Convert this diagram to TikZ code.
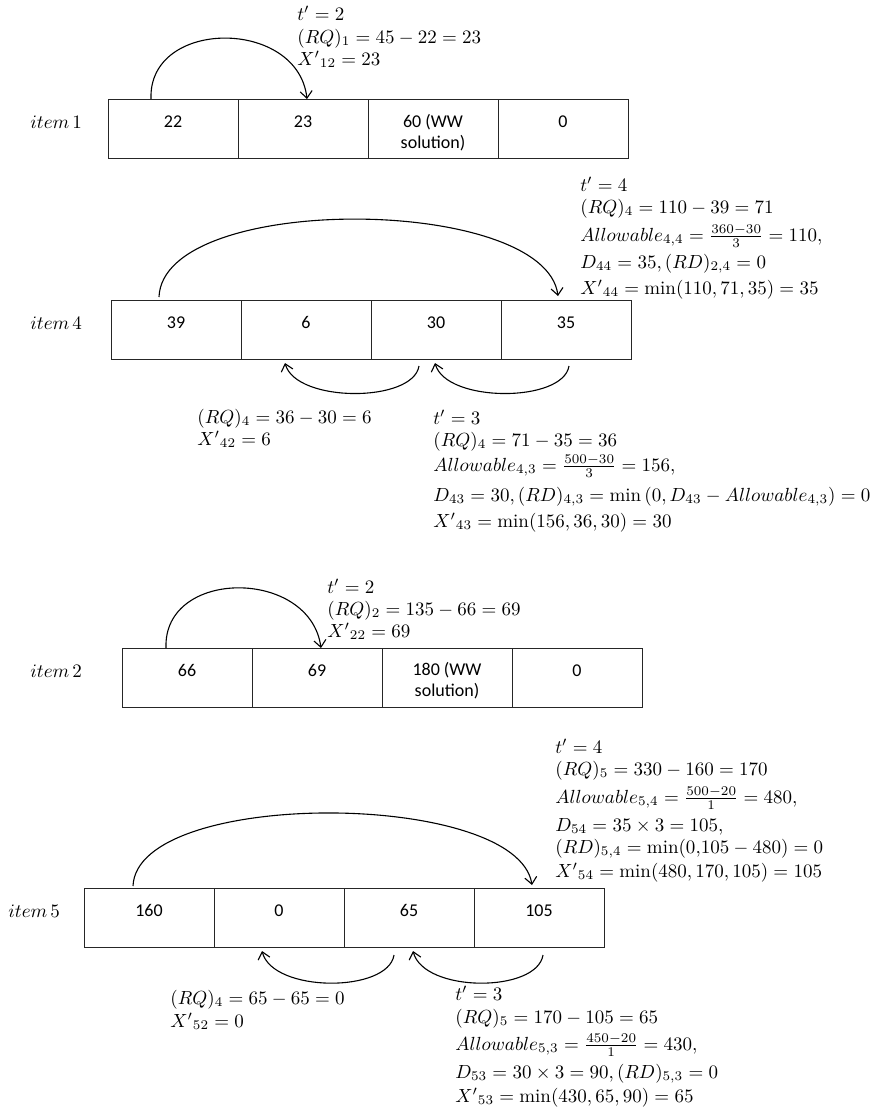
\documentclass[tikz,border=0pt]{standalone}
\usepackage{amsmath}
\usepackage{fontspec}
\setsansfont{Carlito}
\usetikzlibrary{arrows.meta}
\newcommand\cfnt{\sffamily\fontsize{18}{21}\selectfont}
\newcommand\mfnt{\fontsize{10}{12}\selectfont}
\newcommand\onel[1]{\raisebox{1.5pt}[0pt][0pt]{#1}}
\newcommand\twol[2]{\raisebox{-19pt}[0pt][0pt]{\vbox{\baselineskip=21pt\hbox to 0pt{\hss#1\hss}\hbox to 0pt{\hss#2\hss}}}}
\tikzset{
  cell/.style={draw=black!85, line width=1pt, minimum width=130pt, minimum height=59pt, inner sep=0pt, font=\cfnt},
  mth/.style={anchor=base west, inner sep=0pt, font=\mfnt, scale=1.9},
  arr/.style={line width=1.1pt, -{Straight Barb[length=7pt,width=12pt]}},
}
\begin{document}
\begin{tikzpicture}[x=1pt,y=-1pt]
\useasboundingbox[fill=white] (0,0) rectangle (875,1111);

% ---------------- item 1 ----------------
\node[mth] (l1) at (30,128) {$item\,1$};
\node[cell] (c11) at (173,129) {\onel{22}};
\node[cell] (c12) at (303,129) {\onel{23}};
\node[cell] (c13) at (433,129) {\twol{60 (WW}{solution)}};
\node[cell] (c14) at (563,129) {\onel{0}};
\coordinate (s1) at (151,99);
\coordinate (e1) at (307,99);
\draw[arr] (s1) .. controls (148,18) and (298,18) .. (e1);
\node[mth] (t11) at (297,20) {$t' = 2$};
\node[mth] (t12) at (297,43) {$(RQ)_1 = 45 - 22 = 23$};
\node[mth] (t13) at (297,65) {$X'{}_{12} = 23$};

% ---------------- item 4 ----------------
\node[mth] (l4) at (30,329) {$item\,4$};
\node[cell] (c41) at (176,329.5) {\onel{39}};
\node[cell] (c42) at (306,329.5) {\onel{6}};
\node[cell] (c43) at (436,329.5) {\onel{30}};
\node[cell] (c44) at (566,329.5) {\onel{35}};
\coordinate (s4) at (159,297);
\coordinate (e4) at (558,296);
\draw[arr] (s4) .. controls (163,192) and (545,195) .. (e4);
\coordinate (s4a) at (419,366);
\coordinate (e4a) at (285,363);
\draw[arr] (s4a) .. controls (413,403) and (296,403) .. (e4a);
\coordinate (s4b) at (569,366);
\coordinate (e4b) at (435,363);
\draw[arr] (s4b) .. controls (563,403) and (446,403) .. (e4b);
\node[mth] (t41) at (580,191) {$t' = 4$};
\node[mth] (t42) at (580,213) {$(RQ)_4 = 110 - 39 = 71$};
\node[mth] (t43) at (580,241) {$Allowable_{4,4} = \frac{360-30}{3} = 110,$};
\node[mth] (t44) at (580,268) {$D_{44} = 35, (RD)_{2,4} = 0$};
\node[mth] (t45) at (580,294) {$X'{}_{44} = \min(110, 71, 35) = 35$};
\node[mth] (u41) at (197,423) {$(RQ)_4 = 36 - 30 = 6$};
\node[mth] (u42) at (197,445) {$X'{}_{42} = 6$};
\node[mth] (v41) at (433,424) {$t' = 3$};
\node[mth] (v42) at (433,446) {$(RQ)_4 = 71 - 35 = 36$};
\node[mth] (v43) at (433,471) {$Allowable_{4,3} = \frac{500-30}{3} = 156,$};
\node[mth] (v44) at (433,501) {$D_{43} = 30, (RD)_{4,3} = \min\,(0, D_{43} - Allowable_{4,3}) = 0$};
\node[mth] (v45) at (433,527) {$X'{}_{43} = \min(156, 36, 30) = 30$};

% ---------------- item 2 ----------------
\node[mth] (l2) at (30,677) {$item\,2$};
\node[cell] (c21) at (187,677.5) {\onel{66}};
\node[cell] (c22) at (317,677.5) {\onel{69}};
\node[cell] (c23) at (447,677.5) {\twol{180 (WW}{solution)}};
\node[cell] (c24) at (577,677.5) {\onel{0}};
\coordinate (s2) at (166,648);
\coordinate (e2) at (321,648);
\draw[arr] (s2) .. controls (163,568) and (310,568) .. (e2);
\node[mth] (t21) at (327,593) {$t' = 2$};
\node[mth] (t22) at (327,615) {$(RQ)_2 = 135 - 66 = 69$};
\node[mth] (t23) at (327,637) {$X'{}_{22} = 69$};

% ---------------- item 5 ----------------
\node[mth] (l5) at (8,917) {$item\,5$};
\node[cell] (c51) at (149,918) {\onel{160}};
\node[cell] (c52) at (279,918) {\onel{0}};
\node[cell] (c53) at (409,918) {\onel{65}};
\node[cell] (c54) at (539,918) {\onel{105}};
\coordinate (s5) at (133,886);
\coordinate (e5) at (532,885);
\draw[arr] (s5) .. controls (137,788) and (517,790) .. (e5);
\coordinate (s5a) at (394,955);
\coordinate (e5a) at (262,951);
\draw[arr] (s5a) .. controls (388,993) and (273,993) .. (e5a);
\coordinate (s5b) at (543,955);
\coordinate (e5b) at (413,951);
\draw[arr] (s5b) .. controls (537,993) and (424,993) .. (e5b);
\node[mth] (t51) at (555,753) {$t' = 4$};
\node[mth] (t52) at (555,775) {$(RQ)_5 = 330 - 160 = 170$};
\node[mth] (t53) at (555,803) {$Allowable_{5,4} = \frac{500-20}{1} = 480,$};
\node[mth] (t54) at (555,831) {$D_{54} = 35 \times 3 = 105,$};
\node[mth] (t55) at (555,853) {$(RD)_{5,4} = \min(0{,}105 - 480) = 0$};
\node[mth] (t56) at (555,877) {$X'{}_{54} = \min(480, 170, 105) = 105$};
\node[mth] (u51) at (170,1004) {$(RQ)_4 = 65 - 65 = 0$};
\node[mth] (u52) at (170,1027) {$X'{}_{52} = 0$};
\node[mth] (v51) at (455,1000) {$t' = 3$};
\node[mth] (v52) at (455,1023) {$(RQ)_5 = 170 - 105 = 65$};
\node[mth] (v53) at (455,1050) {$Allowable_{5,3} = \frac{450-20}{1} = 430,$};
\node[mth] (v54) at (455,1078) {$D_{53} = 30 \times 3 = 90, (RD)_{5,3} = 0$};
\node[mth] (v55) at (455,1102) {$X'{}_{53} = \min(430, 65, 90) = 65$};
\end{tikzpicture}
\end{document}
